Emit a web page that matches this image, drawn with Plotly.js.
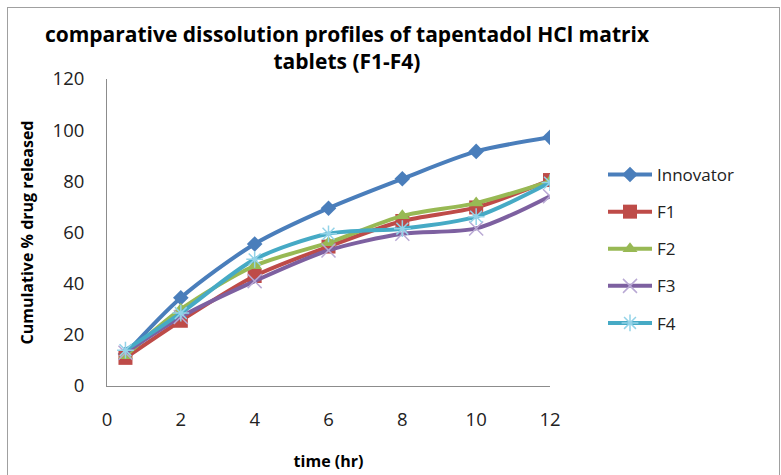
<!DOCTYPE html>
<html><head><meta charset="utf-8">
<script src="https://cdn.plot.ly/plotly-3.0.1.min.js"></script>
<style>html,body{margin:0;padding:0;background:#fff}#wrap{position:relative;width:781px;height:475px}#frame{position:absolute;left:7px;top:7px;width:771px;height:480px;border:1px solid #a0a0a0;pointer-events:none}</style>
</head><body>
<div id="wrap"><div id="chart" style="width:781px;height:475px"></div><div id="frame"></div></div>
<script>
const time = [0.5, 2, 4, 6, 8, 10, 12];
const innovator = [12.5, 34.5, 55.5, 69.5, 81, 91.7, 97.2];
const f1 = [11, 25.5, 43, 54.5, 64.5, 69.8, 80.5];
const f2 = [11.8, 30, 47, 56, 66.5, 71.5, 80];
const f3 = [13, 27, 41, 53, 59.5, 61.6, 74.2];
const f4 = [14, 28.5, 49.5, 59.5, 61.5, 66.2, 79.5];
const names = ['Innovator', 'F1', 'F2', 'F3', 'F4'];
const series = [innovator, f1, f2, f3, f4];
const colors = ['#4A7EBB', '#BE4B48', '#98B954', '#7D60A0', '#46AAC5'];
const markerColors = ['#4A7EBB', '#BE4B48', '#98B954', '#B9A9D4', '#93D3E8'];
const symbols = ['diamond', 'square', 'triangle-up', 'x-thin-open', 'asterisk-open'];
const sizes = [12, 14, 13, 14, 14];

const traces = series.map((y, i) => ({
  x: time, y: y, name: names[i], type: 'scatter', mode: 'lines+markers',
  legendgroup: 'g' + i,
  line: {color: colors[i], width: 4, shape: 'spline', smoothing: 0.8},
  marker: {symbol: symbols[i], size: sizes[i], color: markerColors[i],
           line: {color: markerColors[i], width: (i >= 3 ? 1.5 : 0)}}
}));

const font = "'Open Sans', Arial, sans-serif";
const layout = {
  width: 781, height: 475,
  margin: {l: 107, r: 231, t: 79, b: 89},
  paper_bgcolor: '#fff', plot_bgcolor: '#fff',
  font: {family: font, size: 17, color: '#222'},
  title: {text: '<b>comparative dissolution profiles of tapentadol HCl matrix<br>tablets (F1-F4)</b>',
          x: 347/781, xref: 'container', xanchor: 'center', y: 0.912, yanchor: 'top',
          font: {family: font, size: 21, color: '#000'}},
  xaxis: {range: [0, 12], dtick: 2, tick0: 0, showgrid: false, zeroline: false,
          showline: true, linecolor: '#8c8c8c', linewidth: 1, ticks: '', ticklabelstandoff: 17,
          tickfont: {size: 18.5, color: '#222'},
          title: {text: '<b>time (hr)</b>', font: {size: 16, color: '#000'}, standoff: 25}},
  yaxis: {range: [0, 120], dtick: 20, showgrid: false, zeroline: false,
          showline: true, linecolor: '#8c8c8c', linewidth: 1, ticks: '', ticklabelstandoff: 18,
          tickfont: {size: 18.5, color: '#222'},
          title: {text: '<b>Cumulative % drug released</b>', font: {size: 16, color: '#000'}, standoff: 14}},
  legend: {x: 603/781, xref: 'container', xanchor: 'left', y: 226/475, yref: 'container', yanchor: 'middle',
           itemwidth: 44, font: {size: 17, color: '#222'}, tracegroupgap: 12, bgcolor: 'rgba(0,0,0,0)'},
  showlegend: true
};
Plotly.newPlot('chart', traces, layout, {displayModeBar: false, staticPlot: true});
</script>
</body></html>
